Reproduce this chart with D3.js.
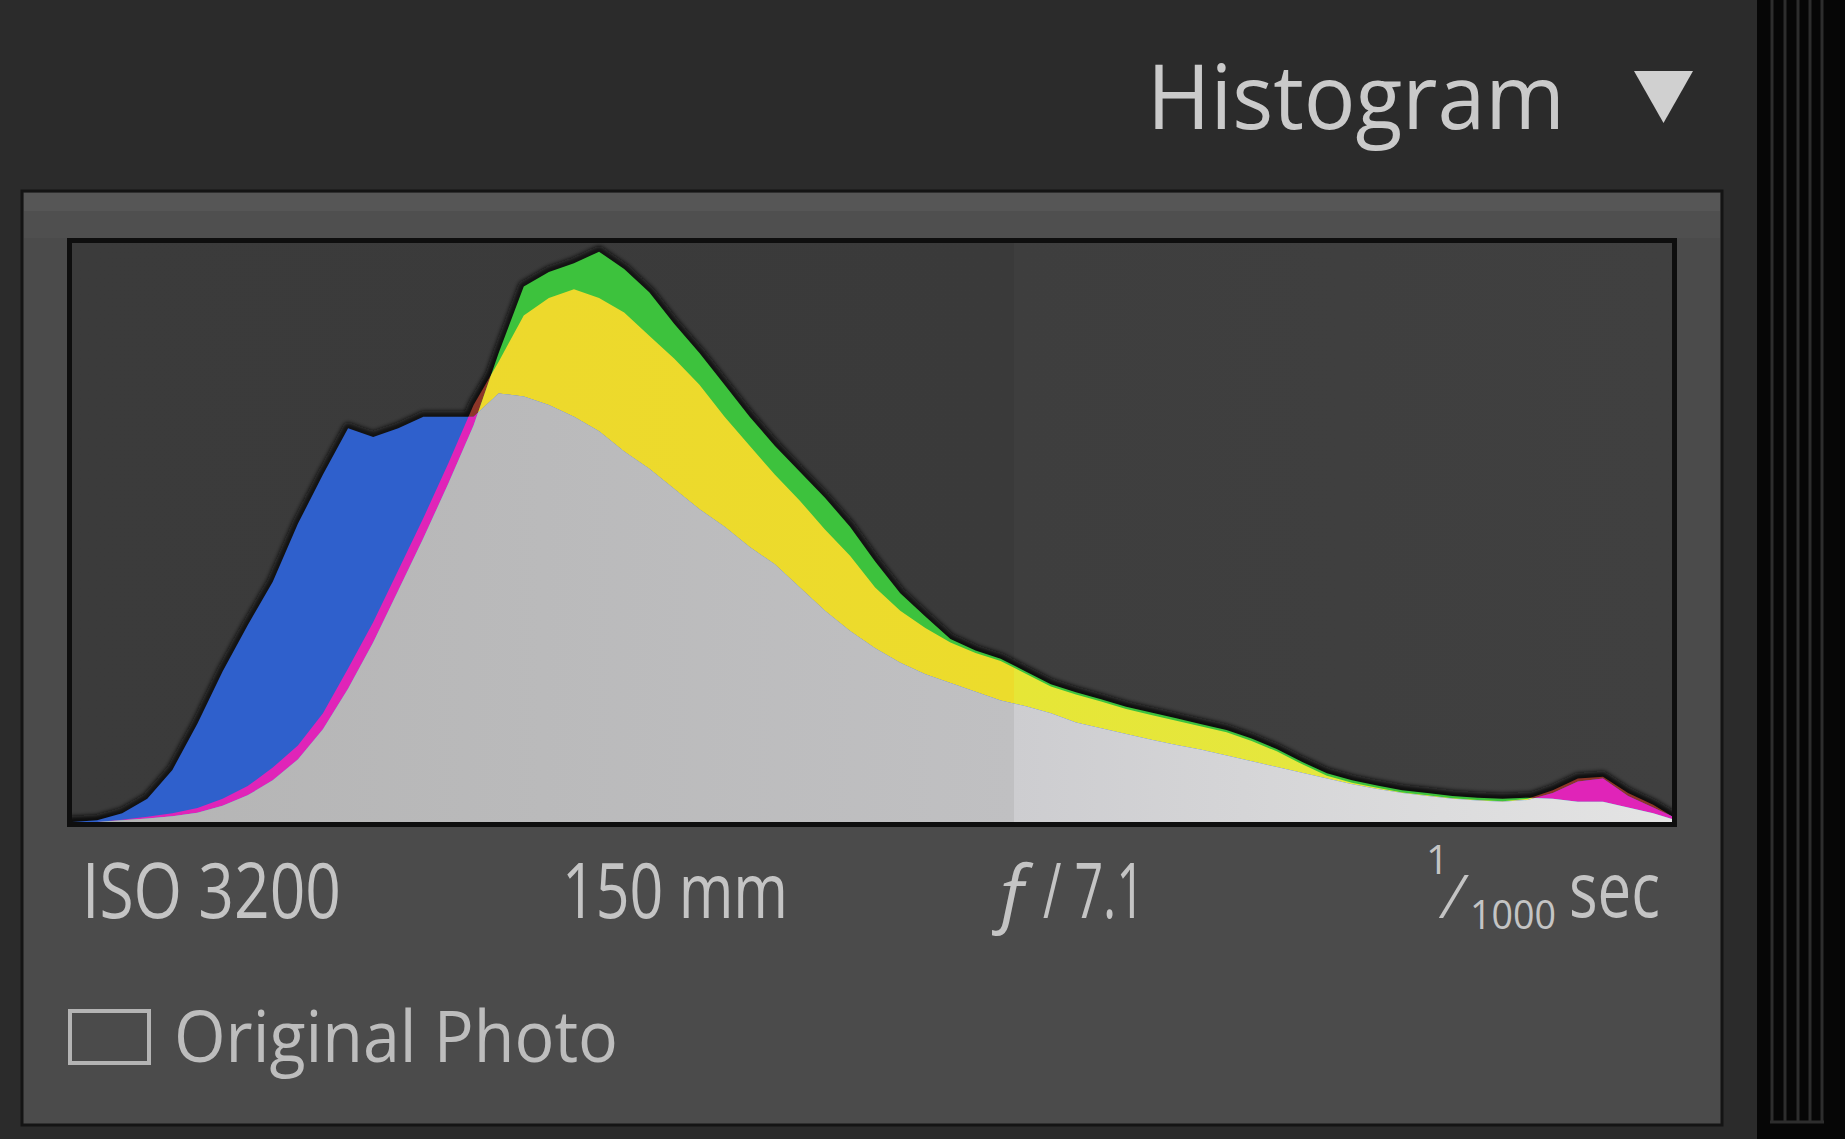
<!DOCTYPE html>
<html>
<head>
<meta charset="utf-8">
<script src="https://cdn.jsdelivr.net/npm/d3@7"></script>
<style>
  html, body { margin: 0; padding: 0; background: #2b2b2b; }
  svg { display: block; }
  text { font-family: "Open Sans", "Noto Sans", sans-serif; }
</style>
</head>
<body>
<svg id="chart" width="1845" height="1139"></svg>
<script>
// Tonal bins (0 = black, 255 = white), sampled every 4 levels
const bins = [0,4,8,12,16,20,24,28,32,36,40,44,48,52,56,60,64,68,72,76,80,84,88,92,96,100,
  104,108,112,116,120,124,128,132,136,140,144,148,152,156,160,164,168,172,176,180,184,188,
  192,196,200,204,208,212,216,220,224,228,232,236,240,244,248,252,255];

// Pixel counts per channel, as a percentage of the tallest bin
const red = [0,0,0.4,0.9,1.5,2.4,4,6.2,9.4,13.2,
  18.8,26.5,34.5,43.5,52.5,62,72,79.5,87.5,90.5,
  92,90.5,88,84,80,75.5,70,65,60,55.5,
  50.5,46,40.5,36.5,33.5,31,29.2,27.8,25.6,23.4,
  22,20.8,19.5,18.5,17.5,16.5,15.5,14,12.2,10,
  8,6.8,5.9,5.1,4.6,4.1,3.8,3.6,4,5.5,
  7.5,7.8,5,3,1];
const green = [0,0,0.3,0.6,1,1.6,2.8,4.6,7.2,10.8,
  16,23,31,40,49,58.5,68.5,81,92.5,95,
  96.5,98.5,95.5,91.5,86,81,75.5,70,65,60.5,
  56,51,45,39.5,35.5,31.6,29.6,28.2,26,23.8,
  22.4,21.2,19.9,18.9,17.9,16.9,15.9,14.4,12.6,10.4,
  8.4,7.2,6.3,5.5,5,4.5,4.2,4,4.2,4,
  3.5,3.5,2.5,1.5,0.5];
const blue = [0,0.3,1.5,4,9,17,26,34,41.5,51.5,
  60,68,66.5,68,70,70,70,74,73.5,72,
  70,67.5,64,61,57.5,54,51,47.5,44.5,40.5,
  36.5,33,30,27.5,25.5,24,22.5,21,20,18.8,
  17.2,16.2,15.2,14.2,13.3,12.5,11.5,10.5,9.5,8.5,
  7.5,6.5,5.7,5,4.5,4,3.7,3.5,3.8,5,
  7,7.5,4.5,2.5,1];

// Panel texts
const panelTitle = "Histogram";
const exposureLabels = ["ISO 3200", "150 mm"];
const apertureLabel = ["ƒ", "/ 7.1"];
const shutterLabel = ["1", "⁄", "1000", "sec"];
const checkboxLabel = "Original Photo";

const svg = d3.select("#chart");
const defs = svg.append("defs");

// ---------- frame of the panel ----------
svg.append("rect").attr("width", 1845).attr("height", 1139).attr("fill", "#2b2b2b");

// scrollbar gutter on the right
svg.append("rect").attr("x", 1757).attr("y", 0).attr("width", 88).attr("height", 1139).attr("fill", "#060606");
[1772, 1785, 1798, 1810, 1822].forEach(xx => {
  svg.append("line").attr("x1", xx).attr("x2", xx).attr("y1", 0).attr("y2", 1122)
    .attr("stroke", "#2d2d2d").attr("stroke-width", 3);
});
svg.append("line").attr("x1", 1770).attr("x2", 1824).attr("y1", 1122).attr("y2", 1122)
  .attr("stroke", "#2d2d2d").attr("stroke-width", 3);

// histogram panel body
svg.append("rect").attr("x", 22).attr("y", 191).attr("width", 1700).attr("height", 934)
  .attr("fill", "#4b4b4b").attr("stroke", "#141414").attr("stroke-width", 3);
svg.append("rect").attr("x", 24).attr("y", 193).attr("width", 1696).attr("height", 18).attr("fill", "#565656");
svg.append("rect").attr("x", 24).attr("y", 211).attr("width", 1696).attr("height", 27).attr("fill", "#4f4f4f");

// header
svg.append("text").attr("x", 1147).attr("y", 129)
  .attr("font-size", 90).attr("fill", "#cacaca")
  .attr("textLength", 418).attr("lengthAdjust", "spacingAndGlyphs")
  .text(panelTitle);
svg.append("path").attr("d", "M1634,71 L1693,71 L1663.5,123 Z").attr("fill", "#d0d0d0");

// ---------- histogram ----------
const x = d3.scaleLinear().domain([0, 255]).range([72, 1672]);
const y = d3.scaleLinear().domain([0, 100]).range([822, 243]);
const split = 1014; // lighter right half of the plot

const sp = (split - 72) / 1600;
function hGradient(id, stops) {
  const g = defs.append("linearGradient").attr("id", id)
    .attr("gradientUnits", "userSpaceOnUse").attr("x1", 72).attr("x2", 1672).attr("y1", 0).attr("y2", 0);
  stops.forEach(([o, c]) => g.append("stop").attr("offset", o).attr("stop-color", c));
}
hGradient("bg-grad", [[0, "#3b3b3b"], [sp, "#3a3a3a"], [sp, "#3e3e3e"], [1, "#404040"]]);
hGradient("gray-grad", [[0, "#b4b4b4"], [sp, "#c0c0c2"], [sp, "#cdcdd0"], [1, "#e4e4e4"]]);
hGradient("yellow-grad", [[0, "#eed62c"], [sp, "#ecdc2c"], [sp, "#e6e636"], [1, "#e4e848"]]);

const blur = defs.append("filter").attr("id", "soft").attr("x", "-5%").attr("y", "-5%").attr("width", "110%").attr("height", "110%");
blur.append("feGaussianBlur").attr("stdDeviation", 2);

defs.append("clipPath").attr("id", "plot-clip").append("rect")
  .attr("x", 72).attr("y", 243).attr("width", 1600).attr("height", 579);

const channelArea = values => d3.area()
  .x((d, i) => x(bins[i]))
  .y0(y(0))
  .y1((d, i) => y(values[i]))
  .curve(d3.curveLinear)(values);

const channels = [
  { key: "r", values: red, color: "#8e3628" },
  { key: "g", values: green, color: "#3dc23d" },
  { key: "b", values: blue, color: "#2f60cc" }
];
channels.forEach(c => {
  c.path = channelArea(c.values);
  defs.append("clipPath").attr("id", "clip-" + c.key).append("path").attr("d", c.path);
});
const byKey = Object.fromEntries(channels.map(c => [c.key, c]));

svg.append("rect").attr("x", 72).attr("y", 243).attr("width", 1600).attr("height", 579).attr("fill", "url(#bg-grad)");

const plot = svg.append("g").attr("clip-path", "url(#plot-clip)");

// dark rim along the outer envelope of all channels
const rim = plot.append("g").attr("filter", "url(#soft)");
channels.forEach(c => {
  rim.append("path").attr("d", c.path).attr("fill", "none")
    .attr("stroke", "#121212").attr("stroke-width", 11).attr("stroke-linejoin", "round").attr("opacity", 0.9);
});

// single channels
channels.forEach(c => {
  plot.append("path").attr("d", c.path).attr("fill", c.color);
});
// two-channel overlaps
plot.append("path").attr("d", byKey.g.path).attr("clip-path", "url(#clip-r)").attr("fill", "url(#yellow-grad)");
plot.append("path").attr("d", byKey.b.path).attr("clip-path", "url(#clip-r)").attr("fill", "#e024b8");
plot.append("path").attr("d", byKey.b.path).attr("clip-path", "url(#clip-g)").attr("fill", "#34c6d2");
// all three channels
plot.append("g").attr("clip-path", "url(#clip-r)")
  .append("path").attr("d", byKey.b.path).attr("clip-path", "url(#clip-g)").attr("fill", "url(#gray-grad)");

// plot frame
svg.append("rect").attr("x", 69.5).attr("y", 240.5).attr("width", 1605).attr("height", 584)
  .attr("fill", "none").attr("stroke", "#0e0e0e").attr("stroke-width", 5);

// ---------- exposure info ----------
const infoColor = "#c4c4c4";
svg.append("text").attr("x", 82).attr("y", 918).attr("font-size", 76).attr("fill", infoColor)
  .attr("textLength", 259).attr("lengthAdjust", "spacingAndGlyphs").text(exposureLabels[0]);
svg.append("text").attr("x", 562).attr("y", 918).attr("font-size", 76).attr("fill", infoColor)
  .attr("textLength", 226).attr("lengthAdjust", "spacingAndGlyphs").text(exposureLabels[1]);

svg.append("text").attr("x", 992).attr("y", 918).attr("font-size", 76).attr("fill", infoColor)
  .attr("font-style", "italic").text(apertureLabel[0]);
svg.append("text").attr("x", 1043).attr("y", 918).attr("font-size", 76).attr("fill", infoColor)
  .attr("textLength", 102).attr("lengthAdjust", "spacingAndGlyphs").text(apertureLabel[1]);

// shutter speed as a built-up fraction: numerator, slash, denominator, unit
svg.append("text").attr("x", 1426).attr("y", 874).attr("font-size", 40).attr("fill", infoColor)
  .text(shutterLabel[0]);
svg.append("text").attr("x", 1450).attr("y", 918).attr("font-size", 60).attr("fill", infoColor)
  .text(shutterLabel[1]);
svg.append("text").attr("x", 1470).attr("y", 929).attr("font-size", 40).attr("fill", infoColor)
  .attr("textLength", 86).attr("lengthAdjust", "spacingAndGlyphs").text(shutterLabel[2]);
svg.append("text").attr("x", 1569).attr("y", 917).attr("font-size", 76).attr("fill", infoColor)
  .attr("textLength", 91).attr("lengthAdjust", "spacingAndGlyphs").text(shutterLabel[3]);

// ---------- checkbox ----------
svg.append("rect").attr("x", 70).attr("y", 1011).attr("width", 79).attr("height", 52)
  .attr("fill", "none").attr("stroke", "#b4b4b4").attr("stroke-width", 4);
svg.append("text").attr("x", 174).attr("y", 1062).attr("font-size", 72).attr("fill", "#bdbdbd")
  .attr("textLength", 444).attr("lengthAdjust", "spacingAndGlyphs").text(checkboxLabel);
</script>
</body>
</html>
